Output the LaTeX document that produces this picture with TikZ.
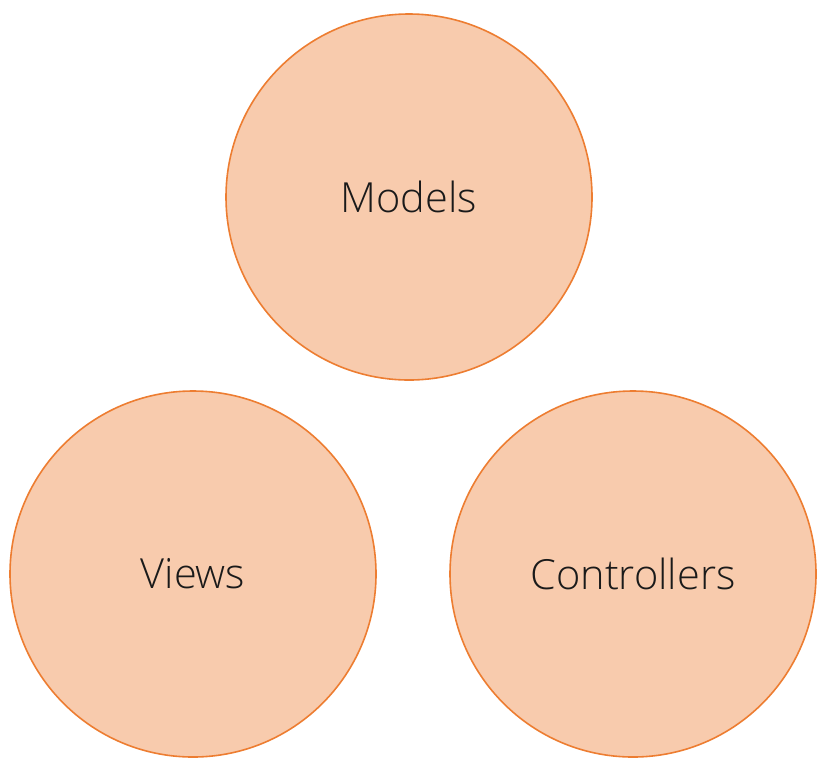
\documentclass[tikz,border=0pt]{standalone}
\usepackage{fontspec}
\setmainfont{Open Sans Light}
\definecolor{cfill}{HTML}{F8CBAD}
\definecolor{cedge}{HTML}{ED7D31}
\definecolor{ctext}{HTML}{1A1A1A}
\begin{document}
\begin{tikzpicture}[x=1pt,y=-1pt,
  bubble/.style={circle, draw=cedge, fill=cfill, line width=1.6pt, minimum size=366pt, inner sep=0pt,
    font=\fontsize{41.5}{48}\selectfont, text=ctext}]
\useasboundingbox (0,0) rectangle (821,764);
\node[bubble] (models) at (409,197) {Models};
\node[bubble] (views) at (193,574) {\raisebox{-3pt}{Views}};
\node[bubble] (controllers) at (633,574) {\raisebox{-3pt}{Controllers}};
\end{tikzpicture}
\end{document}
